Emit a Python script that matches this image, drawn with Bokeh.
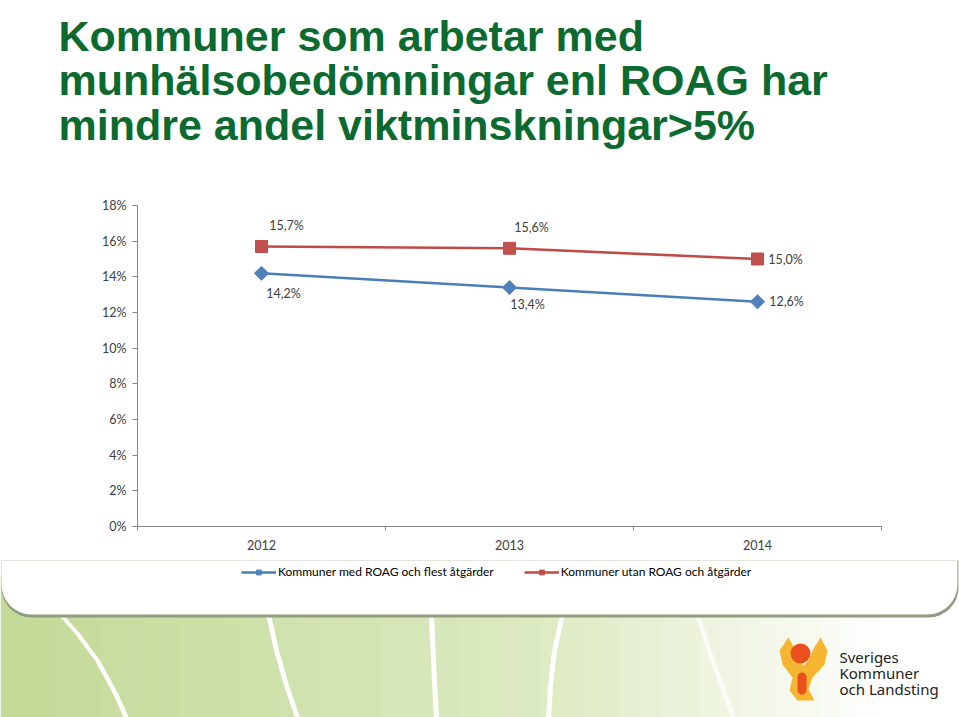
import math
from bokeh.plotting import figure
from bokeh.models import (Range1d, FixedTicker, NumeralTickFormatter, ColumnDataSource, LinearAxis,
                          LabelSet, Label, Legend, LegendItem, BoxAnnotation, PolyAnnotation)
from bokeh.core.properties import value
from bokeh.embed import file_html
from bokeh.resources import INLINE

# ---------------- data ----------------
years = ["2012", "2013", "2014"]
med_roag = [0.142, 0.134, 0.126]
utan_roag = [0.157, 0.156, 0.150]
series_names = ["Kommuner med ROAG och flest åtgärder", "Kommuner utan ROAG och åtgärder"]
y_ticks = [0.0, 0.02, 0.04, 0.06, 0.08, 0.10, 0.12, 0.14, 0.16, 0.18]
y_max = 0.18
title_lines = ["Kommuner som arbetar med",
               "munhälsobedömningar enl ROAG har",
               "mindre andel viktminskningar>5%"]
logo_lines = ["Sveriges", "Kommuner", "och Landsting"]

W, H = 959, 717
PL, PR, PT, PB = 137, 881, 205, 526   # where the chart's axes sit on the page (px)

BLUE, BLUE_M = "#4a7ebb", "#4f81bd"
RED, RED_M = "#be4b48", "#c0504d"
TXT = "#404040"
FONT = "Lato"

n = len(years)
U = (PR - PL) / n          # px per category
V = (PB - PT) / y_max      # px per unit of y

# The frame covers the whole page; axes are pinned inside it with fixed_location.
p = figure(width=W, height=H, output_backend="svg", toolbar_location=None,
           x_range=Range1d(-PL / U, (W - PL) / U), y_range=Range1d(-(H - PB) / V, PB / V),
           x_axis_type=None, y_axis_type=None, min_border=0,
           background_fill_color="white", border_fill_color="white", outline_line_color=None)
p.grid.visible = False

xs = [i + 0.5 for i in range(n)]

yax = LinearAxis(fixed_location=0, bounds=(0, y_max), ticker=FixedTicker(ticks=y_ticks),
                 formatter=NumeralTickFormatter(format="0%"))
yax.axis_line_color = "#868686"
yax.major_tick_line_color = "#868686"
yax.major_tick_out = 5
yax.major_tick_in = 0
yax.minor_tick_line_color = None
yax.major_label_standoff = 6

xax = LinearAxis(fixed_location=0, bounds=(0, n),
                 ticker=FixedTicker(ticks=xs, minor_ticks=list(range(n + 1))))
xax.major_label_overrides = {x: y for x, y in zip(xs, years)}
xax.major_tick_line_color = None
xax.minor_tick_out = 4
xax.minor_tick_in = 0
xax.minor_tick_line_color = "#868686"
xax.axis_line_color = "#868686"
xax.major_label_standoff = 7
for ax in (xax, yax):
    ax.major_label_text_font = FONT
    ax.major_label_text_font_size = "12.5px"
    ax.major_label_text_color = TXT
p.add_layout(yax, "left")
p.add_layout(xax, "below")

# ---------------- slide decoration (screen px; frame == page) ----------------
def sy(py):
    return H - py


def lerp(c1, c2, k):
    return tuple(int(round(a + (b - a) * k)) for a, b in zip(c1, c2))


def hexc(c):
    return "#%02x%02x%02x" % c


def sbox(l, r, t, b, **kw):
    return BoxAnnotation(left=l, right=r, top=sy(t), bottom=sy(b), left_units="screen",
                         right_units="screen", top_units="screen", bottom_units="screen",
                         fill_alpha=1, line_color=None, **kw)

G0, G1, G2 = (194, 217, 150), (222, 235, 196), (255, 255, 255)
step = 20
for x0 in range(0, W, step):
    xm = x0 + step / 2
    if xm < 560:
        c = lerp(G0, G1, xm / 560)
    else:
        c = lerp(G1, G2, min(1.0, (xm - 560) / 330))
    p.add_layout(sbox(x0, x0 + step + 1, 576, H + 2, fill_color=hexc(c), level="underlay"))


def stripe(pts, w, alpha=1.0):
    left = [(x - w / 2, y) for x, y in pts]
    right = [(x + w / 2, y) for x, y in reversed(pts)]
    poly = left + right
    p.add_layout(PolyAnnotation(xs=[x for x, _ in poly], ys=[sy(y) for _, y in poly],
                                xs_units="screen", ys_units="screen", fill_color="white",
                                fill_alpha=alpha, line_color=None, level="underlay"))

stripe([(60, 614), (77, 633), (97, 660), (115, 693), (127, 720)], 5)
stripe([(268, 614), (276, 650), (286, 685), (298, 720)], 5)
stripe([(431, 614), (433, 660), (436, 720)], 5)
stripe([(562, 614), (554, 650), (550, 685), (548, 720)], 5)
stripe([(697, 614), (712, 660), (734, 720)], 5, 0.7)

p.add_layout(sbox(1, 958, 560, 617, fill_color="#8f9c80", border_radius=(0, 0, 30, 30),
                  level="underlay"))
p.add_layout(BoxAnnotation(left=1, right=957, top=sy(560), bottom=sy(614), left_units="screen",
                           right_units="screen", top_units="screen", bottom_units="screen",
                           fill_color="white", fill_alpha=1, line_color=None,
                           border_radius=(0, 0, 30, 30), level="underlay"))

# logo
yellow = [(788, 637), (794, 648), (798, 660), (803, 665), (808, 660), (813, 648), (820, 637),
          (827, 650), (824, 664), (812, 677), (808, 689), (814, 700), (797, 700), (789, 690),
          (792, 677), (782, 664), (779, 650)]
p.add_layout(PolyAnnotation(xs=[x for x, _ in yellow], ys=[sy(y) for _, y in yellow],
                            xs_units="screen", ys_units="screen", fill_color="#f6b531",
                            fill_alpha=1, line_color=None))
p.add_layout(sbox(790, 810, 643, 663, fill_color="#e8501e", border_radius=10))
p.add_layout(sbox(797, 806, 672, 694, fill_color="#e8501e", border_radius=5))
for i, line in enumerate(logo_lines):
    p.add_layout(Label(x=839, y=sy(656 + i * 16), x_units="screen", y_units="screen",
                       text=line, text_font="Noto Sans", text_font_size="15px",
                       text_color="#222222", text_baseline="alphabetic", text_align="left"))

# title
for i, line in enumerate(title_lines):
    p.add_layout(Label(x=58, y=sy(35 + i * 44.5), x_units="screen", y_units="screen",
                       text=line, text_font="Liberation Sans", text_font_size="43px",
                       text_font_style="bold", text_color="#0b6a30",
                       text_baseline="alphabetic", text_align="left"))

# ---------------- series ----------------
src_a = ColumnDataSource(dict(x=xs, y=med_roag))
src_b = ColumnDataSource(dict(x=xs, y=utan_roag))
la = p.line("x", "y", source=src_a, line_color=BLUE, line_width=2.6)
ma = p.scatter("x", "y", source=src_a, marker="square", angle=math.pi / 4, size=10,
               fill_color=BLUE_M, line_color=BLUE_M)
lb = p.line("x", "y", source=src_b, line_color=RED, line_width=2.6)
mb = p.scatter("x", "y", source=src_b, marker="square", size=12, fill_color=RED_M, line_color=RED_M)


def fmt(v):
    return f"{v*100:.1f}%".replace(".", ",")

lab_a = ColumnDataSource(dict(x=xs, y=med_roag, t=[fmt(v) for v in med_roag],
                              dx=[22, 18, 29], dy=[-20, -17, 0]))
lab_b = ColumnDataSource(dict(x=xs, y=utan_roag, t=[fmt(v) for v in utan_roag],
                              dx=[25, 22, 28], dy=[21, 21, 0]))
for s in (lab_a, lab_b):
    p.add_layout(LabelSet(x="x", y="y", text="t", source=s, x_offset="dx", y_offset="dy",
                          text_align="center", text_baseline="middle",
                          text_font=value(FONT), text_font_size="12.5px", text_color=TXT))

legend = Legend(items=[LegendItem(label=series_names[0], renderers=[la, ma]),
                       LegendItem(label=series_names[1], renderers=[lb, mb])],
                orientation="horizontal", location=(241, H - 579), glyph_width=35,
                glyph_height=12, label_standoff=2, spacing=30, padding=4, margin=0,
                label_text_font=FONT, label_text_font_size="12px", label_text_color="#000000",
                border_line_color=None, background_fill_alpha=0)
p.add_layout(legend)

open("out.html", "w").write(file_html(p, INLINE))
